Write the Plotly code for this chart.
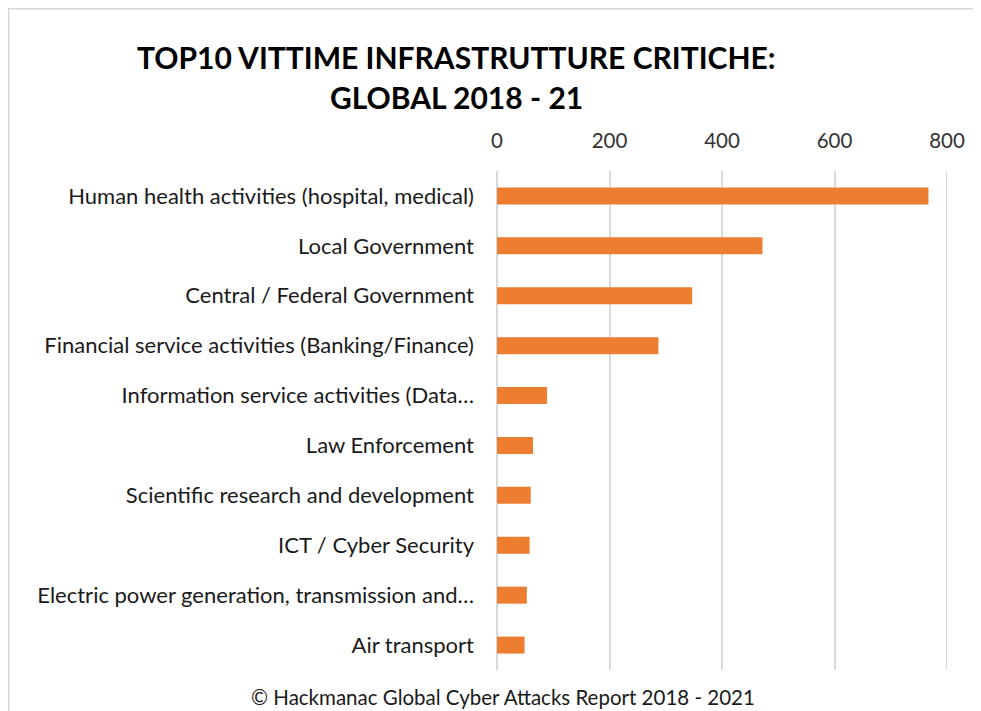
import plotly.graph_objects as go

# categories top to bottom, as in the picture
categories = [
    "Human health activities (hospital, medical)",
    "Local Government",
    "Central / Federal Government",
    "Financial service activities (Banking/Finance)",
    "Information service activities (Data…",
    "Law Enforcement",
    "Scientific research and development",
    "ICT / Cyber Security",
    "Electric power generation, transmission and…",
    "Air transport",
]
victims = [767, 472, 347, 287, 89, 64, 60, 58, 53, 49]
x_ticks = [0, 200, 400, 600, 800]

title_lines = ["TOP10 VITTIME INFRASTRUTTURE CRITICHE:", "GLOBAL 2018 - 21"]
footer = "© Hackmanac Global Cyber Attacks Report 2018 - 2021"

fig = go.Figure()
fig.add_trace(
    go.Bar(
        x=victims,
        y=categories,
        orientation="h",
        marker=dict(color="#ED7D31", line=dict(width=0)),
        hoverinfo="x+y",
    )
)

# the page body adds 8px, so the figure is a bit smaller than the window
fig.update_layout(
    width=973,
    height=703,
    margin=dict(l=489, r=34, t=163, b=41),
    paper_bgcolor="white",
    plot_bgcolor="white",
    font=dict(family="Lato, Open Sans, sans-serif", color="#1a1a1a"),
    bargap=0.66,
    showlegend=False,
    xaxis=dict(
        side="top",
        range=[x_ticks[0], x_ticks[-1]],
        tickvals=x_ticks,
        showgrid=True,
        gridcolor="#d9d9d9",
        gridwidth=2,
        zeroline=True,
        zerolinecolor="#d9d9d9",
        zerolinewidth=2,
        showline=False,
        ticks="",
        tickfont=dict(size=20.5, color="#333333"),
        ticklabelstandoff=18,
    ),
    yaxis=dict(
        autorange="reversed",
        showgrid=False,
        zeroline=False,
        showline=False,
        ticks="",
        tickfont=dict(size=22, color="#1a1a1a"),
        ticklabelstandoff=22,
    ),
)

# last gridline sits on the range edge, plotly hides it -> draw it
fig.add_shape(
    type="line",
    xref="x", yref="paper",
    x0=x_ticks[-1], x1=x_ticks[-1], y0=0, y1=1,
    line=dict(color="#d9d9d9", width=2),
    layer="below",
)

# title (two centred lines) and footer
for txt, ypos in zip(title_lines, [1.2285, 1.148]):
    fig.add_annotation(
        text=f"<b>{txt}</b>",
        xref="paper", yref="paper",
        x=-0.089, y=ypos,
        xanchor="center", yanchor="middle",
        showarrow=False,
        font=dict(size=30, color="#000000", family="Lato, sans-serif"),
    )

fig.add_annotation(
    text=footer,
    xref="paper", yref="paper",
    x=0.0144, y=-0.054,
    xanchor="center", yanchor="middle",
    showarrow=False,
    font=dict(size=20.5, color="#1a1a1a"),
)

# light chart-area border like the original
fig.add_shape(
    type="rect",
    xref="paper", yref="paper",
    x0=-1.085, x1=1.073,
    y0=-0.2, y1=1.325,
    line=dict(color="#d9d9d9", width=1.5),
    fillcolor="rgba(0,0,0,0)",
    layer="below",
)

fig.write_html("out.html")
